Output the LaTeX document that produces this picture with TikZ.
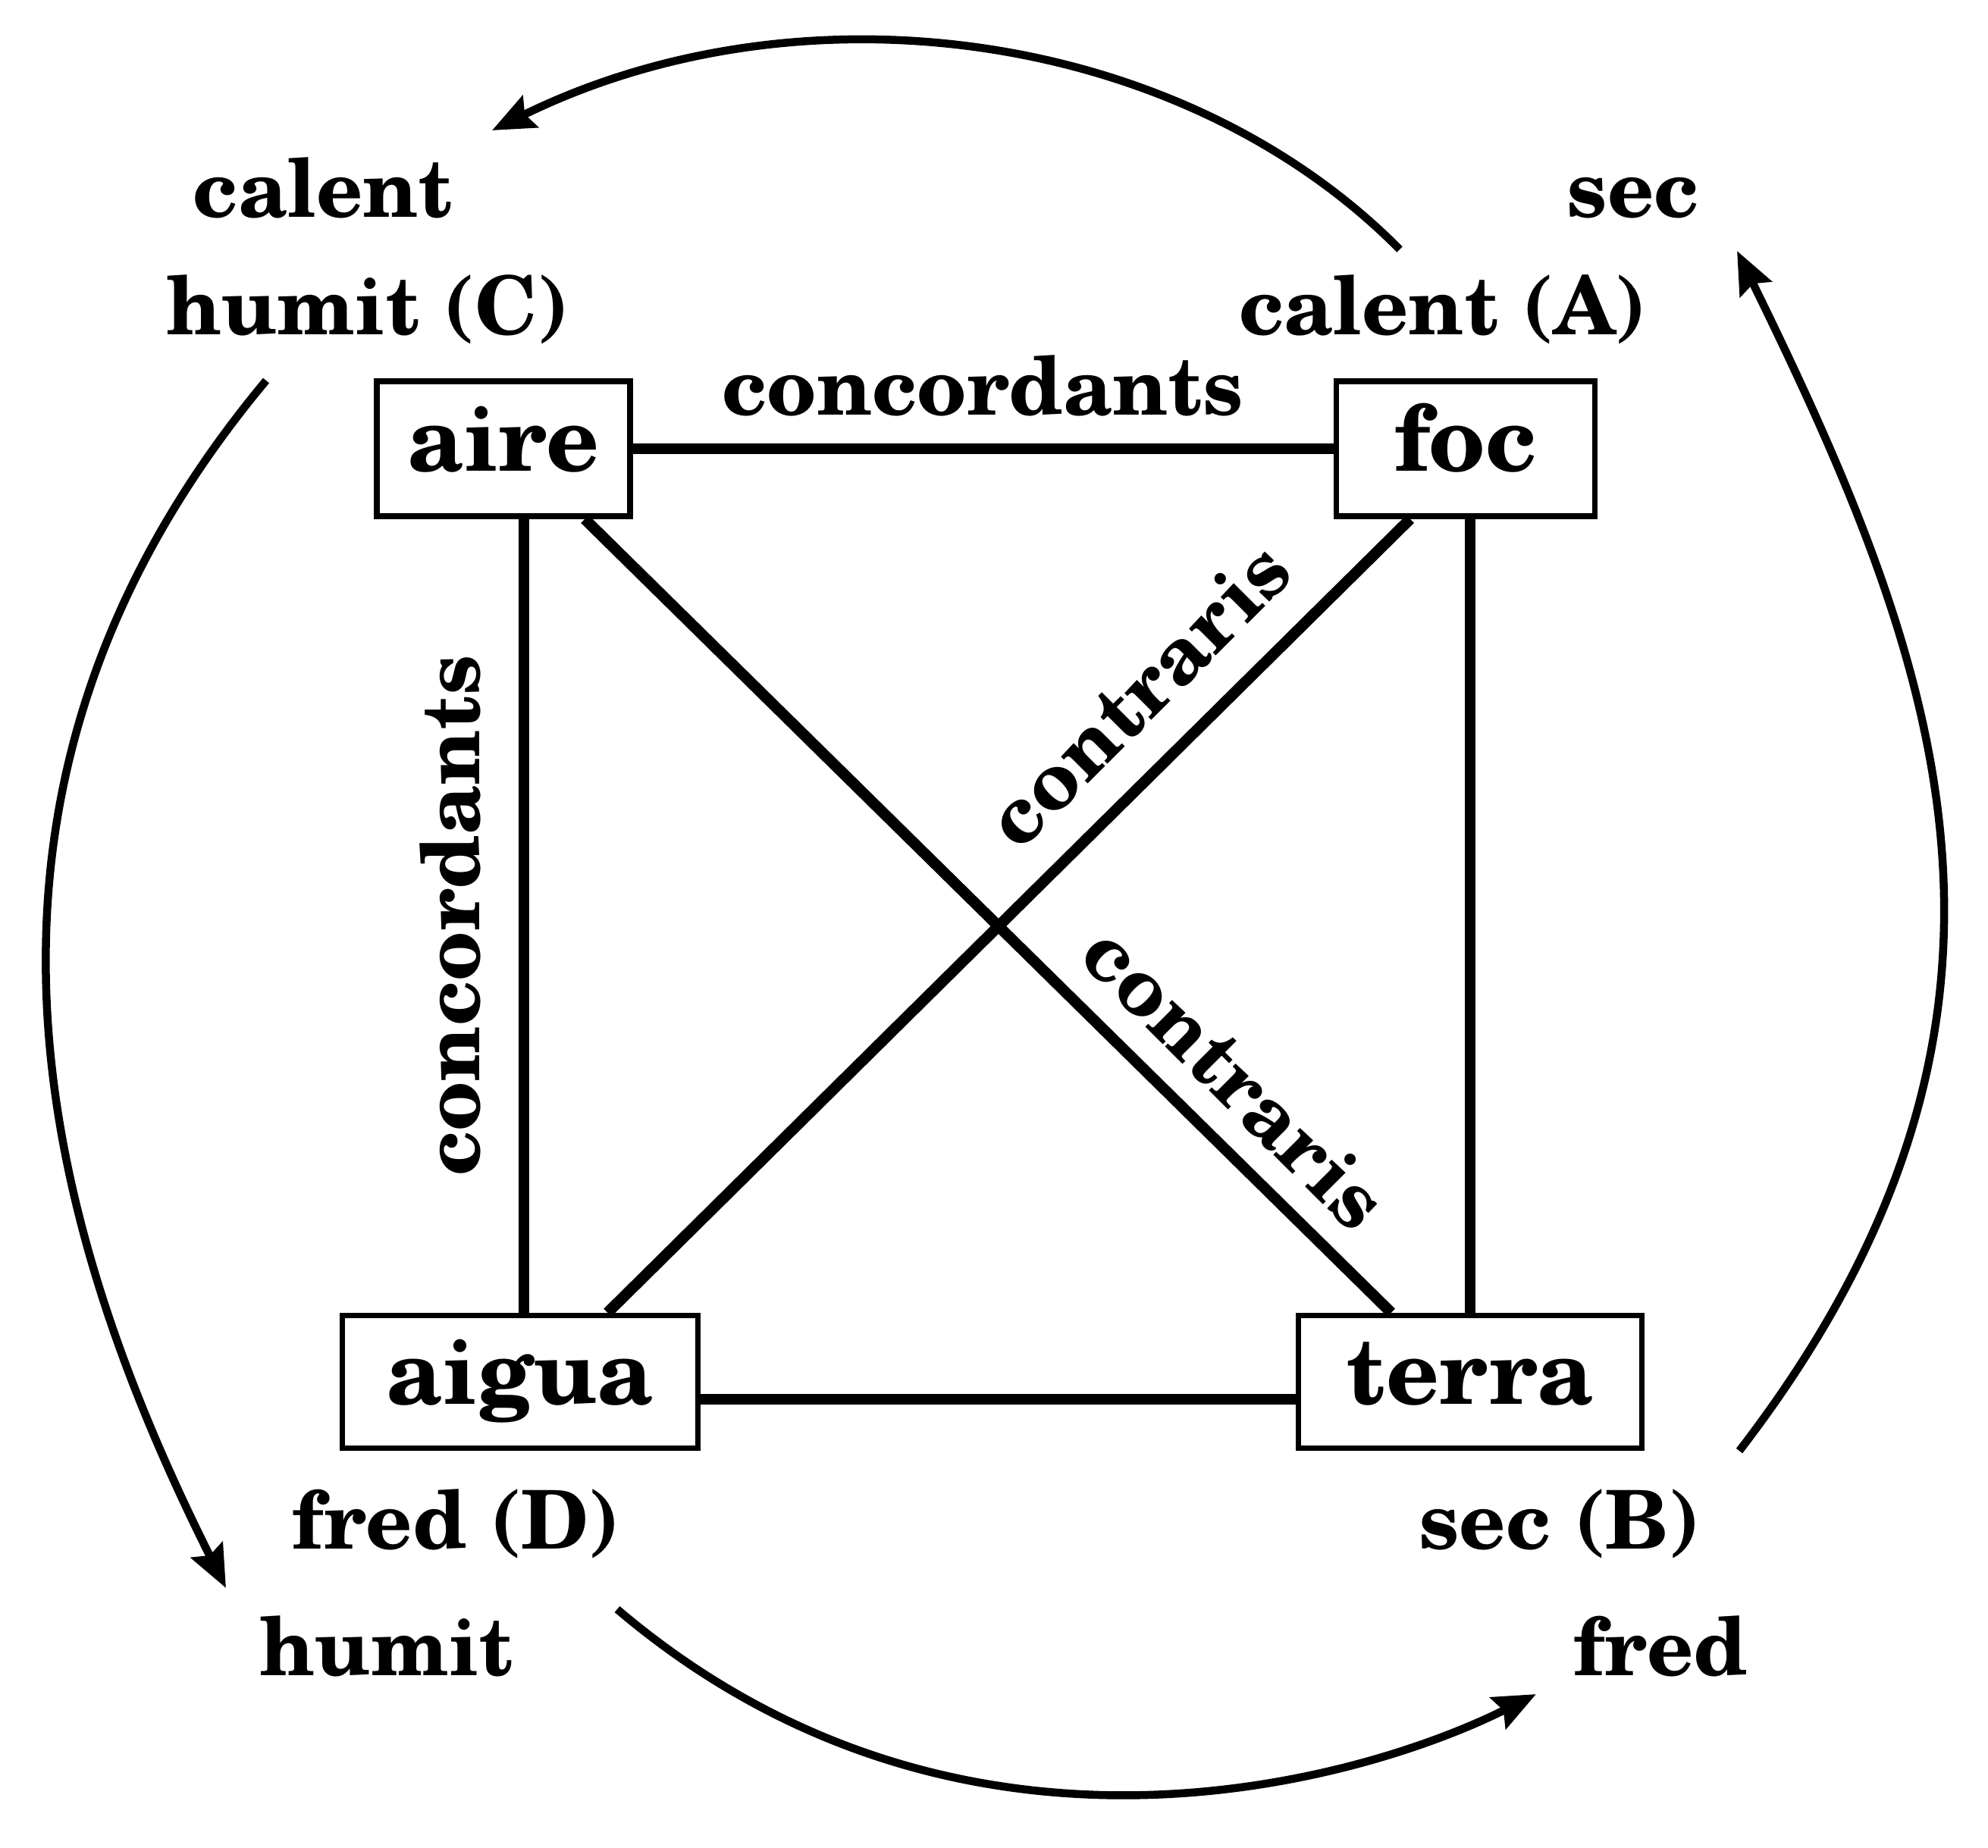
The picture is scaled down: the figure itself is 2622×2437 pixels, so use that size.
\documentclass[tikz,border=0pt]{standalone}
\usepackage{fontspec}
\setmainfont{texgyreschola}[Extension=.otf, UprightFont=*-regular, BoldFont=*-bold, ItalicFont=*-italic, BoldItalicFont=*-bolditalic]
\usetikzlibrary{arrows.meta,calc}
\newcommand\elemfont{\fontsize{122}{130}\selectfont\bfseries}
\newcommand\lblfont{\fontsize{107}{120}\selectfont\bfseries}
\begin{document}
\begin{tikzpicture}[x=1pt,y=-1pt,
  elem/.style={draw, line width=7.5pt, inner sep=0pt, font=\elemfont, text height=85pt, text depth=26pt},
  lbl/.style={font=\lblfont, inner sep=0pt, anchor=base},
  conn/.style={line width=14.5pt},
  circarrow/.style={line width=10.5pt, -{Stealth[length=56pt 0 0,width=46pt 0 0,inset=8pt]}}]
\useasboundingbox (0,0) rectangle (2622,2437);

% element boxes
\node[elem, minimum width=334pt, minimum height=178pt] (aire) at (664,592) {aire};
\node[elem, minimum width=341pt, minimum height=178pt] (foc) at (1933,592) {foc};
\node[elem, minimum width=469pt, minimum height=175pt] (aigua) at (686,1823) {aigua};
\node[elem, minimum width=453pt, minimum height=175pt] (terra) at (1939,1823) {terra};

% connectors
\draw[conn] (aire) -- (foc);
\draw[conn] ([xshift=5pt]aigua.north |- aire.south) -- ([xshift=5pt]aigua.north);
\draw[conn] (terra.north |- foc.south) -- (terra.north);
\draw[conn] ([yshift=-23pt]aigua.east) -- ([yshift=-23pt]aigua.east -| terra.west);
\draw[conn] ($(aire.south west)!0.814!(aire.south east)$) -- ($(terra.north west)!0.274!(terra.north east)$);
\draw[conn] ($(foc.south west)!0.29!(foc.south east)$) -- ($(aigua.north west)!0.742!(aigua.north east)$);

% connector labels
\node[lbl] (concH) at (1296,547) {concordants};
\node[lbl, rotate=90] (concV) at (632,1208) {concordants};
\node[lbl, rotate=45] (contrA) at (1527,942) {contraris};
\node[lbl, rotate=-45] (contrB) at (1603,1447) {contraris};

% corner labels
\node[lbl] (t1) at (426,286) {calent};
\node[lbl] (t2) at (485,441) {humit (C)};
\node[lbl] (t3) at (2154,286) {sec};
\node[lbl] (t4) at (1903,441) {calent (A)};
\node[lbl] (t5) at (602,2043) {fred (D)};
\node[lbl] (t6) at (510,2210) {humit};
\node[lbl] (t7) at (2057,2043) {sec (B)};
\node[lbl] (t8) at (2190,2210) {fred};

% circular arrows
\coordinate (topS) at (1846,329);
\coordinate (topE) at (649,172);
\coordinate (rgtS) at (2294,1914);
\coordinate (rgtE) at (2291,331);
\coordinate (lftS) at (351,502);
\coordinate (lftE) at (298,2095);
\coordinate (botS) at (814,2123);
\coordinate (botE) at (2026,2235);
\draw[circarrow] (topS) .. controls (1560,40) and (1060,-30) .. (topE);
\draw[circarrow] (rgtS) .. controls (2734,1342) and (2560,880) .. (rgtE);
\draw[circarrow] (lftS) .. controls (-102,1045) and (56,1612) .. (lftE);
\draw[circarrow] (botS) .. controls (1267,2508) and (1800,2348) .. (botE);
\end{tikzpicture}
\end{document}
